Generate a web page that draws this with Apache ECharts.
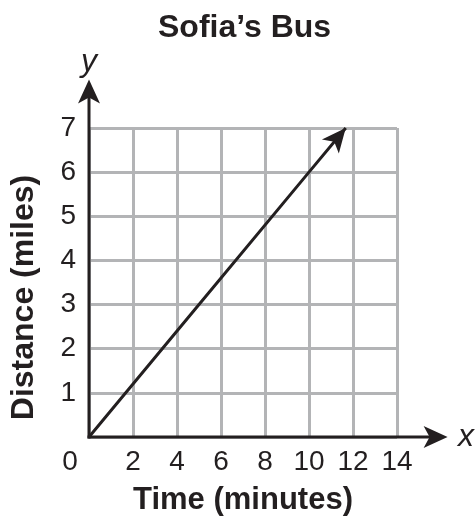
<!DOCTYPE html>
<html>
<head>
<meta charset="utf-8">
<title>Sofia’s Bus</title>
<script src="https://cdn.jsdelivr.net/npm/echarts@6/dist/echarts.min.js"></script>
<style>
  html, body { margin: 0; padding: 0; background: #fff; }
  #chart { width: 475px; height: 518px; }
</style>
</head>
<body>
<div id="chart"></div>
<script>
// Sofia's bus: distance travelled against time (0.6 miles a minute)
var timeMinutes = [0, 5, 10, 11.67];
var distanceMiles = [0, 3, 6, 7];
var xTicks = [0, 2, 4, 6, 8, 10, 12, 14];
var yTicks = [0, 1, 2, 3, 4, 5, 6, 7];
// where the axis arrows stop, in data units (past the grid)
var xArrowEnd = 16.3;
var yArrowEnd = 8.1;

var ink = '#231f20';
var gridGrey = '#b3b4b6';
var font = '"Liberation Sans", Arial, sans-serif';

function arrowRenderer(withShaft) {
    return function(params, api) {
        var a = api.coord([api.value(0), api.value(1)]);
        var b = api.coord([api.value(2), api.value(3)]);
        var dx = b[0] - a[0], dy = b[1] - a[1];
        var len = Math.sqrt(dx * dx + dy * dy) || 1;
        var ux = dx / len, uy = dy / len;
        var headLen = 24, halfW = 11, notch = 6;
        var bx = b[0] - ux * headLen, by = b[1] - uy * headLen;
        var mid = [b[0] - ux * (headLen - notch), b[1] - uy * (headLen - notch)];
        var children = [];
        if (withShaft) {
            children.push({
                type: 'line',
                shape: { x1: a[0], y1: a[1], x2: mid[0], y2: mid[1] },
                style: { stroke: ink, lineWidth: 3, lineCap: 'square' }
            });
        }
        children.push({
            type: 'polygon',
            shape: { points: [b, [bx - uy * halfW, by + ux * halfW], mid, [bx + uy * halfW, by - ux * halfW]] },
            style: { fill: ink }
        });
        return { type: 'group', children: children };
    };
}

var n = timeMinutes.length;
var linePoints = timeMinutes.map(function(t, i) { return [t, distanceMiles[i]]; });

var chart = echarts.init(document.getElementById('chart'));
chart.setOption({
    animation: false,
    textStyle: { fontFamily: font, color: ink },
    title: {
        text: 'Sofia’s Bus',
        left: 153,
        top: 7,
        textStyle: { fontSize: 32, fontWeight: 'bold', color: ink, fontFamily: font }
    },
    grid: { left: 89, right: 78, top: 128, bottom: 81, outerBoundsMode: 'none' },
    xAxis: [{
        type: 'value',
        min: xTicks[0],
        max: xTicks[xTicks.length - 1],
        interval: xTicks[1] - xTicks[0],
        axisLine: { show: false },
        axisTick: { show: false },
        splitLine: { lineStyle: { color: gridGrey, width: 3 } },
        axisLabel: {
            margin: 11,
            fontSize: 28,
            color: ink,
            formatter: function(v) { return v === 0 ? '{o|0}' : String(v); },
            rich: { o: { fontSize: 28, color: ink, padding: [0, 38, 0, 0] } }
        },
        name: 'Time (minutes)',
        nameLocation: 'middle',
        nameGap: 48,
        nameTextStyle: { fontSize: 31, fontWeight: 'bold', color: ink }
    }, {
        type: 'value',
        position: 'bottom',
        min: xTicks[0],
        max: xTicks[xTicks.length - 1],
        axisLine: { show: false },
        axisTick: { show: false },
        axisLabel: { show: false },
        splitLine: { show: false },
        name: 'x',
        nameLocation: 'end',
        nameGap: 61,
        nameTextStyle: { fontSize: 32, fontStyle: 'italic', color: ink, verticalAlign: 'middle' }
    }],
    yAxis: [{
        type: 'value',
        min: yTicks[0],
        max: yTicks[yTicks.length - 1],
        interval: yTicks[1] - yTicks[0],
        axisLine: { show: false },
        axisTick: { show: false },
        splitLine: { lineStyle: { color: gridGrey, width: 3 } },
        axisLabel: {
            margin: 13,
            fontSize: 28,
            color: ink,
            formatter: function(v) { return v === 0 ? '' : String(v); }
        },
        name: 'Distance (miles)',
        nameLocation: 'middle',
        nameRotate: 90,
        nameGap: 49,
        nameTextStyle: { fontSize: 32, fontWeight: 'bold', color: ink, padding: [0, 30, 0, 0] }
    }, {
        type: 'value',
        position: 'left',
        min: yTicks[0],
        max: yTicks[yTicks.length - 1],
        axisLine: { show: false },
        axisTick: { show: false },
        axisLabel: { show: false },
        splitLine: { show: false },
        name: 'y',
        nameLocation: 'end',
        nameGap: 50,
        nameTextStyle: { fontSize: 32, fontStyle: 'italic', color: ink, align: 'center' }
    }],
    series: [{
        name: 'axes',
        type: 'custom',
        xAxisIndex: 0,
        yAxisIndex: 0,
        clip: false,
        silent: true,
        z: 3,
        renderItem: arrowRenderer(true),
        data: [[0, 0, xArrowEnd, 0], [0, 0, 0, yArrowEnd]]
    }, {
        name: 'Sofia’s Bus',
        type: 'line',
        xAxisIndex: 0,
        yAxisIndex: 0,
        data: linePoints,
        symbol: 'none',
        z: 4,
        lineStyle: { color: ink, width: 3 }
    }, {
        name: 'head',
        type: 'custom',
        xAxisIndex: 0,
        yAxisIndex: 0,
        clip: false,
        silent: true,
        z: 5,
        renderItem: arrowRenderer(false),
        data: [[timeMinutes[n - 2], distanceMiles[n - 2], timeMinutes[n - 1], distanceMiles[n - 1]]]
    }]
});
</script>
</body>
</html>
